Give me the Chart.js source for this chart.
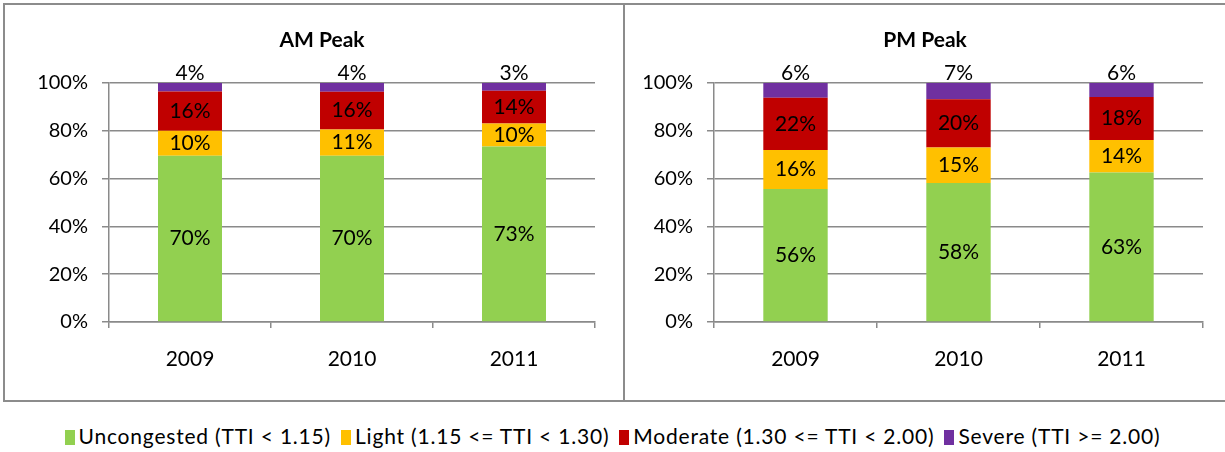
<!DOCTYPE html>
<html>
<head>
<meta charset="utf-8">
<script src="https://cdn.jsdelivr.net/npm/chart.js@4"></script>
<style>
  body { margin: 0; background: #fff; width: 1225px; height: 452px; overflow: hidden; position: relative; font-family: Lato, sans-serif; }
  .box { position: absolute; top: 3px; height: 399px; border: 2px solid #8c8c8c; box-sizing: border-box; }
  #boxAM { left: 3px; width: 622px; }
  #boxPM { left: 623px; width: 606px; }
  canvas { position: absolute; }
  .title { position: absolute; top: 26px; font-size: 21px; font-weight: bold; text-align: center; color: #000; }
  #titleAM { left: 3px; width: 638px; }
  #titlePM { left: 623px; width: 604px; }
  #legend { position: absolute; top: 423px; left: 0; width: 1225px; text-align: center; font-size: 21px; letter-spacing: 0.8px; color: #000; white-space: nowrap; }
  #legend span.item { margin: 0 5px; }
  #legend span.sw { display: inline-block; width: 10px; height: 15px; margin-right: 4px; vertical-align: -1px; }
</style>
</head>
<body>
<div class="box" id="boxAM"></div>
<div class="box" id="boxPM"></div>
<canvas id="amChart" width="621" height="400" style="left:4px;top:3px"></canvas>
<canvas id="pmChart" width="600" height="400" style="left:625px;top:3px"></canvas>
<div class="title" id="titleAM"></div>
<div class="title" id="titlePM"></div>
<div id="legend"></div>
<script>
var years = ["2009", "2010", "2011"];
var panelTitles = ["AM Peak", "PM Peak"];
var seriesNames = [
    "Uncongested (TTI < 1.15)",
    "Light (1.15 <= TTI < 1.30)",
    "Moderate (1.30 <= TTI < 2.00)",
    "Severe (TTI >= 2.00)"
];
var seriesColors = ["#92D050", "#FFC000", "#C00000", "#7030A0"];
var yTicks = [0, 20, 40, 60, 80, 100];

// AM peak shares (%)
var amUncongested = [69.6, 69.6, 73.4];
var amLight = [10.4, 10.9, 9.7];
var amModerate = [16.4, 15.8, 13.7];
var amSevere = [3.6, 3.7, 3.2];

// PM peak shares (%)
var pmUncongested = [55.6, 58.2, 62.6];
var pmLight = [16.4, 14.8, 13.6];
var pmModerate = [21.8, 20.2, 17.9];
var pmSevere = [6.2, 6.8, 5.9];

var gridColor = "#8a8a8a";
var font = "Lato, sans-serif";

var barLabels = {
    id: "barLabels",
    afterDatasetsDraw: function(chart) {
        var ctx = chart.ctx;
        ctx.save();
        ctx.font = "21px " + font;
        ctx.fillStyle = "#000";
        ctx.textAlign = "center";
        chart.data.datasets.forEach(function(ds, di) {
            var meta = chart.getDatasetMeta(di);
            meta.data.forEach(function(bar, i) {
                var p = bar.getProps(["x", "y", "base"], true);
                var txt = Math.round(ds.data[i]) + "%";
                if (di == chart.data.datasets.length - 1) {
                    ctx.textBaseline = "bottom";
                    ctx.fillText(txt, p.x, p.y + 1);
                } else {
                    ctx.textBaseline = "middle";
                    ctx.fillText(txt, p.x, (p.y + p.base) / 2);
                }
            });
        });
        ctx.restore();
    }
};

function makeChart(id, values, yWidth, padRight) {
    var datasets = values.map(function(v, k) {
        return {
            label: seriesNames[k],
            data: v,
            backgroundColor: seriesColors[k],
            borderWidth: 0,
            categoryPercentage: 1,
            barPercentage: 0.395
        };
    });
    return new Chart(id, {
        type: "bar",
        data: { labels: years, datasets: datasets },
        plugins: [barLabels],
        options: {
            responsive: false,
            animation: false,
            layout: { padding: { left: 0, right: padRight, top: 80, bottom: 0 } },
            plugins: {
                legend: { display: false },
                tooltip: { enabled: false },
                title: { display: false }
            },
            scales: {
                x: {
                    stacked: true,
                    grid: { drawOnChartArea: false, offset: true, color: gridColor, lineWidth: 1.5, tickLength: 6 },
                    border: { color: gridColor, width: 1.5 },
                    ticks: { color: "#000", font: { family: font, size: 21 }, padding: 19 },
                    afterFit: function(s) { s.height = 81; }
                },
                y: {
                    stacked: true,
                    min: 0,
                    max: 100,
                    afterBuildTicks: function(s) { s.ticks = yTicks.map(function(v) { return { value: v }; }); },
                    grid: { color: gridColor, lineWidth: 1.5, tickLength: 7 },
                    border: { color: gridColor, width: 1.5 },
                    ticks: { color: "#000", font: { family: font, size: 20 }, padding: 14,
                        callback: function(v) { return v + "%"; } },
                    afterFit: function(s) { s.width = yWidth; }
                }
            }
        }
    });
}

makeChart("amChart", [amUncongested, amLight, amModerate, amSevere], 105, 30);
makeChart("pmChart", [pmUncongested, pmLight, pmModerate, pmSevere], 89, 22);

document.getElementById("titleAM").textContent = panelTitles[0];
document.getElementById("titlePM").textContent = panelTitles[1];

var legend = document.getElementById("legend");
seriesNames.forEach(function(name, k) {
    var item = document.createElement("span");
    item.className = "item";
    var sw = document.createElement("span");
    sw.className = "sw";
    sw.style.background = seriesColors[k];
    item.appendChild(sw);
    item.appendChild(document.createTextNode(name));
    legend.appendChild(item);
});
</script>
</body>
</html>
